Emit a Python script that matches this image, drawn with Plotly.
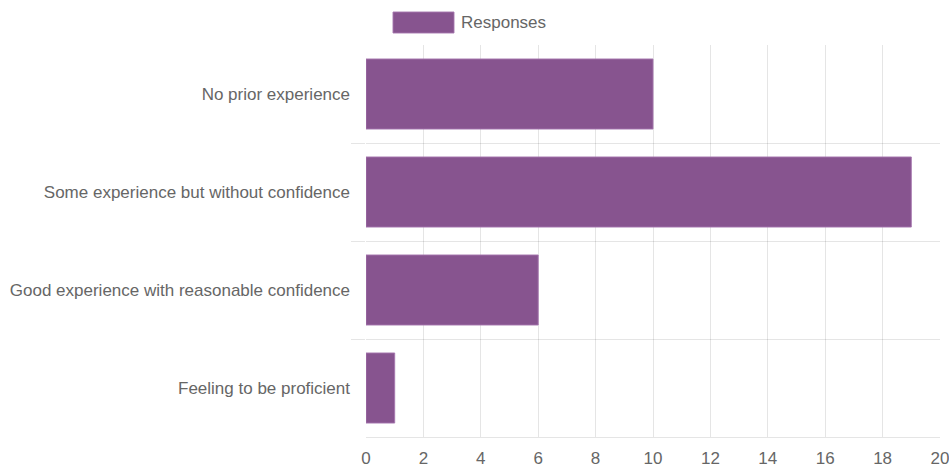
import plotly.graph_objects as go

# Survey responses on prior experience
categories = [
    "No prior experience",
    "Some experience but without confidence",
    "Good experience with reasonable confidence",
    "Feeling to be proficient",
]
responses = [10, 19, 6, 1]
series_name = "Responses"
x_ticks = list(range(0, 21, 2))

# Row positions follow the category order; separators sit between rows
rows = list(range(len(categories)))
separators = [i + 0.5 for i in rows[:-1]]

bar_fill = "rgb(135,84,143)"
bar_edge = "rgba(165,118,174,0.9)"
text_color = "#666666"
grid_color = "rgba(0,0,0,0.1)"
font_family = "Liberation Sans, Arial, sans-serif"
font_size = 17

L, R, T, B = 366, 9, 45, 31
W, H = 949, 468
plot_w, plot_h = W - L - R, H - T - B

fig = go.Figure(
    go.Bar(
        x=responses,
        y=rows,
        orientation="h",
        name=series_name,
        width=0.715,
        marker=dict(color=bar_fill, line=dict(color=bar_edge, width=1)),
        showlegend=False,
        customdata=categories,
        hovertemplate="%{customdata}: %{x}<extra></extra>",
    )
)

fig.update_layout(
    width=W,
    height=H,
    margin=dict(l=L, r=R, t=T, b=B),
    paper_bgcolor="white",
    plot_bgcolor="white",
    font=dict(family=font_family, size=font_size, color=text_color),
    xaxis=dict(
        range=[0, 20],
        tickvals=x_ticks,
        showgrid=True,
        gridcolor=grid_color,
        gridwidth=1,
        zeroline=False,
        showline=True,
        linecolor=grid_color,
        linewidth=1,
        ticks="",
        ticklabelstandoff=6,
        ticklabeloverflow="allow",
        tickfont=dict(size=font_size, color=text_color),
        automargin=False,
        fixedrange=True,
    ),
    yaxis=dict(
        range=[len(categories) - 0.5, -0.5],
        tickmode="array",
        tickvals=rows,
        ticktext=categories,
        ticks="",
        ticklabelstandoff=15,
        showgrid=False,
        showline=False,
        zeroline=False,
        minor=dict(
            tickmode="array",
            tickvals=separators,
            ticks="outside",
            ticklen=14,
            tickcolor=grid_color,
            showgrid=True,
            gridcolor=grid_color,
            gridwidth=1,
        ),
        tickfont=dict(size=font_size, color=text_color),
        automargin=False,
        fixedrange=True,
    ),
)

# Legend entry drawn as a wide colour box with its label
box_x0, box_x1 = 393, 454
box_y0, box_y1 = 12, 33


def px_x(p):
    return (p - L) / plot_w


def px_y(p):
    return 1 - (p - T) / plot_h


fig.add_shape(
    type="rect",
    xref="paper",
    yref="paper",
    x0=px_x(box_x0),
    x1=px_x(box_x1),
    y0=px_y(box_y1),
    y1=px_y(box_y0),
    fillcolor=bar_fill,
    line=dict(color=bar_edge, width=1),
)
fig.add_annotation(
    xref="paper",
    yref="paper",
    x=px_x(459),
    y=px_y(22.5),
    xanchor="left",
    yanchor="middle",
    text=series_name,
    showarrow=False,
    font=dict(size=font_size, color=text_color),
)

fig.write_html("out.html")
